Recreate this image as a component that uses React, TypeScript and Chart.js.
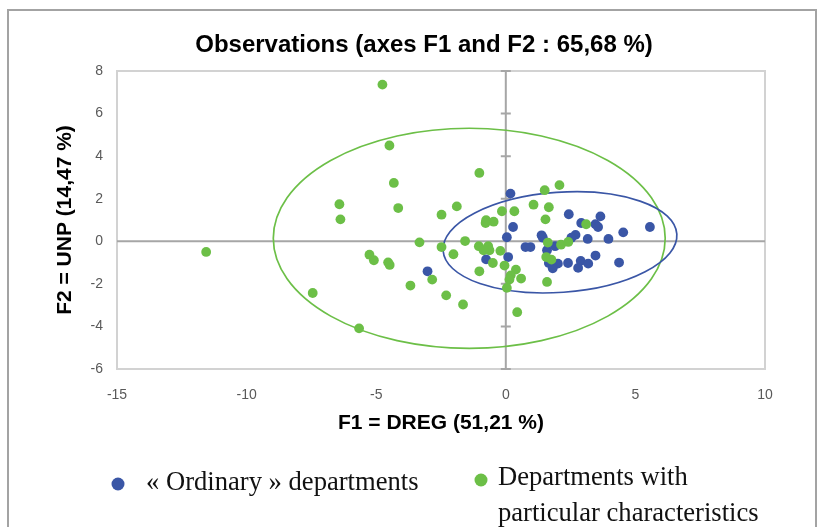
import React, { useEffect, useRef } from "react";
import { Chart, registerables } from "chart.js";

Chart.register(...registerables);

// ---- Text ----
const TITLE = "Observations (axes F1 and F2 : 65,68 %)";
const X_TITLE = "F1 = DREG (51,21 %)";
const Y_TITLE = "F2 = UNP (14,47 %)";
const ORDINARY_LABEL = "« Ordinary » departments";
const PARTICULAR_LABEL = ["Departments with", "particular characteristics"];

// ---- Axes ----
const X_MIN = -15;
const X_MAX = 10;
const X_STEP = 5;
const Y_MIN = -6;
const Y_MAX = 8;
const Y_STEP = 2;

// ---- « Ordinary » departments ----
const ordinaryF1 = [0.18, 2.43, 3.65, 2.91, 3.46, 3.56, 5.56, 4.53, 3.96, 3.16, 2.69, 2.53, 0.28, 0.04, 1.38, 1.43, -0.76, 0.09, 0.76, 0.95, 1.59, 1.9, 1.66, 2.01, 1.81, 2.4, 2.89, 3.18, 2.79, 3.46, 4.37, -3.02];
const ordinaryF2 = [2.24, 1.27, 1.17, 0.86, 0.8, 0.67, 0.67, 0.42, 0.11, 0.11, 0.3, 0.17, 0.67, 0.19, 0.28, 0.17, -0.85, -0.74, -0.27, -0.27, -0.42, -0.23, -1.02, -1.05, -1.27, -1.02, -0.92, -1.05, -1.25, -0.67, -1.0, -1.41];

// ---- Departments with particular characteristics ----
const particularF1 = [-4.76, -4.49, -4.32, -6.42, -6.38, -4.15, -11.56, -5.26, -5.09, -4.54, -4.48, -3.68, -7.45, -5.66, -1.02, 1.5, 2.07, -1.89, -2.48, -0.15, 0.33, 1.07, 1.66, -0.76, -0.47, -0.78, 1.53, 3.1, -3.33, -2.48, -1.57, -1.04, -0.68, -0.63, -0.86, -0.21, -0.5, -2.02, -0.05, 1.62, 2.13, 2.41, 1.56, 1.76, -2.84, -1.02, 0.39, 0.19, 0.14, 0.59, 0.04, 1.59, -2.3, -1.65, 0.44];
const particularF2 = [7.36, 4.5, 2.74, 1.74, 1.03, 1.56, -0.5, -0.63, -0.89, -0.99, -1.11, -2.08, -2.43, -4.09, 3.21, 2.4, 2.64, 1.64, 1.25, 1.41, 1.41, 1.72, 1.6, 0.99, 0.92, 0.86, 1.03, 0.8, -0.05, -0.27, 0.01, -0.23, -0.23, -0.42, -0.42, -0.45, -1.02, -0.61, -1.14, -0.06, -0.16, -0.03, -0.74, -0.86, -1.8, -1.41, -1.33, -1.6, -1.8, -1.75, -2.19, -1.91, -2.54, -2.97, -3.33];

// ---- Confidence ellipses (data units) ----
const ordinaryEllipse = { cx: 2.09, cy: -0.05, rx: 4.52, ry: 2.35, angleDeg: -4.1 };
const particularEllipse = { cx: -1.41, cy: 0.14, rx: 7.56, ry: 5.17, angleDeg: 0 };

const BLUE = "#3A56A6";
const GREEN = "#6CBF47";
const SANS = "'Liberation Sans', Arial, sans-serif";
const SERIF = "'Liberation Serif', 'Times New Roman', serif";

export default function App() {
  const ref = useRef<HTMLCanvasElement>(null);

  useEffect(() => {
    const canvas = ref.current;
    if (!canvas) return;
    const toPts = (xs: number[], ys: number[]) => xs.map((x, i) => ({ x, y: ys[i] }));

    const drawEllipse = (chart: any, e: any, color: string) => {
      const { ctx } = chart;
      const xs = chart.scales.x;
      const ys = chart.scales.y;
      const cx = xs.getPixelForValue(e.cx);
      const cy = ys.getPixelForValue(e.cy);
      const rx = Math.abs(xs.getPixelForValue(e.cx + e.rx) - cx);
      const ry = Math.abs(ys.getPixelForValue(e.cy + e.ry) - cy);
      ctx.save();
      ctx.strokeStyle = color;
      ctx.lineWidth = 1.7;
      ctx.beginPath();
      ctx.ellipse(cx, cy, rx, ry, (e.angleDeg * Math.PI) / 180, 0, Math.PI * 2);
      ctx.stroke();
      ctx.restore();
    };

    const decor = {
      id: "decor",
      beforeDraw(chart: any) {
        const { ctx, chartArea: a } = chart;
        ctx.save();
        ctx.fillStyle = "#ffffff";
        ctx.fillRect(0, 0, chart.width, chart.height);
        // outer frame
        ctx.strokeStyle = "#a3a3a3";
        ctx.lineWidth = 2;
        ctx.strokeRect(8, 10, 808, 600);
        // plot area border
        ctx.strokeStyle = "#d2d2d2";
        ctx.lineWidth = 2;
        ctx.strokeRect(a.left, a.top, a.right - a.left, a.bottom - a.top);
        ctx.restore();
      },
      beforeDatasetsDraw(chart: any) {
        const { ctx, chartArea: a } = chart;
        const xs = chart.scales.x;
        const ys = chart.scales.y;
        const x0 = xs.getPixelForValue(0);
        const y0 = ys.getPixelForValue(0);
        ctx.save();
        ctx.strokeStyle = "#a6a6a6";
        ctx.lineWidth = 2;
        ctx.beginPath();
        ctx.moveTo(a.left, y0);
        ctx.lineTo(a.right, y0);
        ctx.moveTo(x0, a.top);
        ctx.lineTo(x0, a.bottom);
        for (const t of ys.ticks) {
          const py = ys.getPixelForValue(t.value);
          ctx.moveTo(x0 - 5, py);
          ctx.lineTo(x0 + 5, py);
        }
        ctx.stroke();
        ctx.restore();
        drawEllipse(chart, particularEllipse, GREEN);
        drawEllipse(chart, ordinaryEllipse, BLUE);
      },
      afterDraw(chart: any) {
        const { ctx } = chart;
        ctx.save();
        // title
        ctx.fillStyle = "#000";
        ctx.font = `bold 24px ${SANS}`;
        ctx.textAlign = "center";
        ctx.textBaseline = "middle";
        ctx.fillText(TITLE, 424, 45);
        // legend
        ctx.textAlign = "left";
        ctx.font = `26.6px ${SERIF}`;
        ctx.fillStyle = BLUE;
        ctx.beginPath();
        ctx.arc(118, 484, 6.5, 0, Math.PI * 2);
        ctx.fill();
        ctx.fillStyle = "#111";
        ctx.fillText(ORDINARY_LABEL, 146, 483);
        ctx.fillStyle = GREEN;
        ctx.beginPath();
        ctx.arc(481, 480, 6.5, 0, Math.PI * 2);
        ctx.fill();
        ctx.fillStyle = "#111";
        PARTICULAR_LABEL.forEach((line, i) => ctx.fillText(line, 498, 478 + i * 36));
        ctx.restore();
      },
    };

    const chart = new Chart(canvas, {
      type: "scatter",
      data: {
        datasets: [
          {
            label: ORDINARY_LABEL,
            data: toPts(ordinaryF1, ordinaryF2),
            backgroundColor: BLUE,
            borderWidth: 0,
            pointRadius: 4.9,
            order: 2,
          },
          {
            label: PARTICULAR_LABEL.join(" "),
            data: toPts(particularF1, particularF2),
            backgroundColor: GREEN,
            borderWidth: 0,
            pointRadius: 4.9,
            order: 1,
          },
        ],
      },
      options: {
        responsive: false,
        animation: false,
        events: [],
        layout: { padding: { left: 46, right: 59, top: 71, bottom: 91 } },
        plugins: {
          legend: { display: false },
          title: { display: false },
          tooltip: { enabled: false },
        },
        scales: {
          x: {
            type: "linear",
            min: X_MIN,
            max: X_MAX,
            afterFit: (s: any) => {
              s.height = 67;
            },
            ticks: { stepSize: X_STEP, padding: 18, color: "#595959", font: { family: SANS, size: 14 } },
            grid: { display: false, drawTicks: false },
            border: { display: false },
            title: {
              display: true,
              text: X_TITLE,
              color: "#000",
              font: { family: SANS, size: 21, weight: "bold" },
              padding: { top: 0, bottom: 0 },
            },
          },
          y: {
            type: "linear",
            min: Y_MIN,
            max: Y_MAX,
            afterFit: (s: any) => {
              s.width = 71;
            },
            ticks: { stepSize: Y_STEP, padding: 14, color: "#595959", font: { family: SANS, size: 14 } },
            grid: { display: false, drawTicks: false },
            border: { display: false },
            title: {
              display: true,
              text: Y_TITLE,
              color: "#000",
              font: { family: SANS, size: 21, weight: "bold" },
              padding: { top: 7, bottom: 0 },
            },
          },
        },
      } as any,
      plugins: [decor],
    });
    return () => chart.destroy();
  }, []);

  return (
    <div style={{ position: "absolute", left: 0, top: 0, width: 824, height: 527, background: "#fff" }}>
      <canvas ref={ref} width={824} height={527} style={{ display: "block" }} />
    </div>
  );
}
